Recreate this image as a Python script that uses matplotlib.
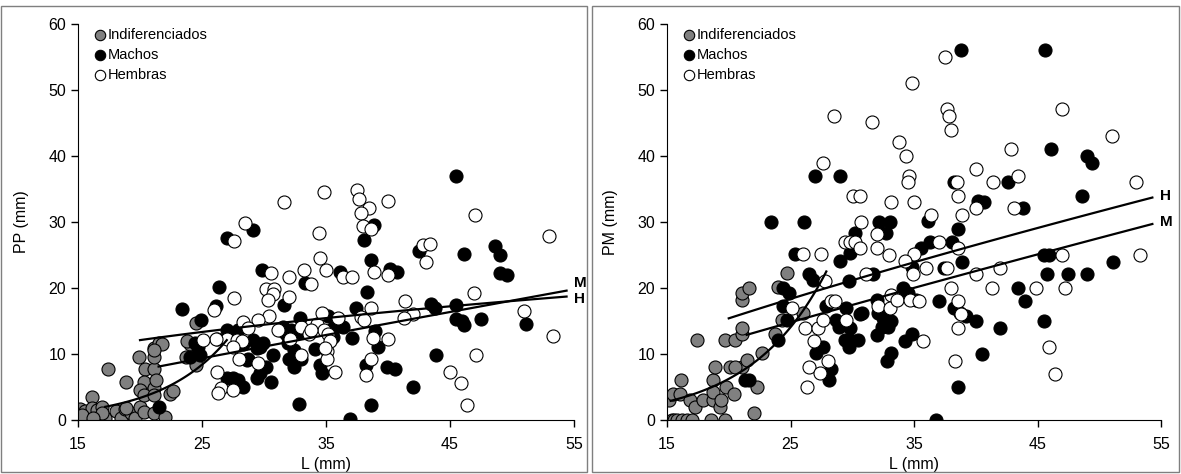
import numpy as np
import matplotlib.pyplot as plt
from matplotlib.patches import Rectangle

plt.rcParams['font.family'] = ['Liberation Sans', 'DejaVu Sans']

# ---- PP vs L (panel izquierdo) ----
pp_ind_x = [15.2, 15.6, 15.6, 16.0, 16.4, 16.8, 17.2, 16.1, 16.1, 16.5, 16.9, 16.9, 17.4, 18.1, 18.5,
            18.8, 18.9, 19.3, 19.6, 19.9, 20.0, 20.3, 20.4, 20.35, 20.0, 21.1, 20.3, 21.1, 21.1, 21.1,
            21.1, 21.1, 21.5, 21.75, 21.3, 22.0, 22.4, 22.7, 23.7, 24.0, 23.8, 24.5, 24.5, 26.2, 21.1,
            15.3, 16.2, 18.9]
pp_ind_y = [1.7, 1.3, 0.3, 0.3, 0.3, 0.3, 0.3, 3.5, 1.8, 1.5, 2.0, 1.0, 7.8, 1.3, 0.3,
            1.6, 5.8, 1.0, 0.3, 9.5, 2.0, 1.2, 7.7, 5.7, 4.5, 4.8, 3.8, 3.8, 1.1, 7.8,
            9.5, 10.9, 11.6, 11.5, 6.1, 0.4, 4.0, 4.4, 9.6, 11.5, 11.9, 8.3, 14.7, 12.2, 10.6,
            0.8, 0.3, 1.8]

pp_mac_x = [21.5, 23.4, 24.9, 24.4, 24.7, 24.0, 24.8, 26.4, 26.1, 27.0, 27.9, 27.0, 27.5, 27.9, 28.3,
            28.6, 29.4, 29.7, 30.2, 30.6, 30.75, 29.4, 29.1, 29.7, 29.9, 29.8, 27.0, 29.1, 31.6, 33.3,
            38.3, 38.1, 38.85, 38.6, 36.1, 40.2, 40.7, 42.5, 45.5, 46.1, 48.6, 49.0, 49.0, 49.6, 43.5,
            43.8, 45.5, 45.5, 46.0, 46.1, 47.5, 51.1, 37.4, 38.95, 39.2, 43.9, 42.0, 39.9, 40.6, 38.2,
            32.85, 38.6, 36.9, 37.1, 34.1, 34.5, 34.65, 32.4, 32.0, 32.4, 33.0, 31.8, 32.2, 31.55, 32.9,
            35.2, 35.6, 36.4, 35.6, 31.3, 31.9, 32.8, 28.3, 28.7]
pp_mac_y = [2.0, 16.8, 15.1, 11.6, 11.1, 9.6, 9.8, 20.1, 17.2, 13.6, 13.6, 6.3, 6.3, 6.1, 5.0,
            9.1, 6.3, 7.1, 8.1, 5.7, 9.8, 10.9, 12.1, 11.1, 11.6, 22.7, 27.6, 28.8, 17.5, 20.7,
            19.4, 27.2, 29.6, 24.2, 22.4, 22.9, 22.4, 25.6, 37.0, 25.2, 26.4, 25.0, 22.2, 22.0, 17.6,
            16.9, 17.5, 15.3, 15.0, 14.4, 15.3, 14.5, 16.9, 13.5, 11.1, 9.9, 5.0, 8.1, 7.8, 8.3,
            2.5, 2.2, 0.15, 12.4, 10.7, 8.3, 7.1, 10.6, 9.3, 8.1, 9.3, 13.1, 13.6, 14.1, 15.4,
            15.7, 13.9, 14.1, 12.6, 13.6, 11.6, 13.4, 11.5, 9.3]

pp_hem_x = [31.6, 28.5, 27.6, 34.8, 37.5, 37.7, 38.5, 40.0, 37.8, 47.0, 34.4, 38.0, 38.6, 53.0, 42.8,
            43.4, 43.1, 34.5, 30.6, 32.0, 33.2, 35.0, 36.4, 37.1, 38.9, 40.0, 33.8, 30.2, 30.8, 30.7,
            30.3, 32.0, 27.6, 26.0, 41.4, 38.6, 46.9, 51.0, 53.3, 42.0, 41.3, 37.8, 38.1, 38.8, 40.0,
            47.1, 45.0, 45.9, 46.4, 38.6, 38.2, 35.7, 35.05, 35.05, 32.1, 33.0, 33.6, 34.3, 34.65, 34.8,
            35.2, 35.3, 34.9, 36.0, 30.4, 29.5, 28.3, 28.7, 27.0, 27.8, 26.1, 25.1, 28.2, 27.5, 28.0,
            26.2, 26.5, 26.3, 27.5, 29.5, 33.0, 31.1, 33.8]
pp_hem_y = [33.1, 29.9, 27.1, 34.6, 34.8, 33.5, 32.1, 33.2, 31.4, 31.1, 28.4, 29.4, 28.9, 27.9, 26.5,
            26.7, 24.0, 24.5, 22.2, 21.7, 22.8, 22.7, 21.6, 21.7, 22.4, 22.0, 20.6, 19.8, 19.8, 19.1,
            18.2, 18.7, 18.5, 16.7, 18.0, 16.9, 19.2, 16.5, 12.7, 16.0, 15.4, 15.6, 15.2, 12.5, 12.2,
            9.8, 7.2, 5.6, 2.2, 9.3, 6.8, 7.2, 10.4, 9.3, 12.2, 14.1, 13.1, 14.6, 16.2, 13.6,
            13.1, 11.9, 10.9, 15.4, 15.8, 15.2, 14.9, 13.9, 12.2, 12.1, 12.2, 12.1, 12.0, 11.1, 9.2,
            7.2, 4.9, 4.1, 4.5, 8.7, 9.8, 13.7, 13.6]

# ---- PM vs L (panel derecho) ----
pm_ind_x = [15.2, 15.5, 16.05, 16.1, 16.9, 17.3, 17.4, 17.9, 18.75, 18.75, 18.75, 19.3, 19.4, 19.8, 19.7,
            18.9, 20.1, 20.5, 21.05, 21.05, 21.05, 21.45, 21.05, 21.05, 21.6, 22.3, 22.7, 24.0, 23.75, 24.3,
            24.7, 26.0, 22.05, 20.4, 20.5, 15.4, 15.6, 15.8, 16.2, 16.6, 17.0, 18.6, 19.7]
pm_ind_y = [3.0, 4.0, 4.0, 6.1, 3.0, 2.0, 12.1, 3.0, 3.0, 6.1, 4.3, 2.0, 3.0, 5.0, 12.1,
            8.1, 8.1, 12.1, 8.1, 13.1, 14.0, 9.1, 18.2, 19.2, 20.0, 5.0, 10.1, 20.1, 13.1, 15.2,
            22.2, 16.2, 1.0, 4.0, 8.1, 0, 0, 0, 0, 0, 0, 0, 0]

pm_mac_x = [23.4, 26.1, 27.0, 29.0, 30.2, 32.2, 33.05, 32.7, 38.8, 45.6, 46.1, 49.0, 49.4, 38.2, 42.6,
            48.6, 40.2, 40.7, 43.8, 36.1, 38.6, 29.8, 29.0, 25.4, 35.6, 36.3, 38.05, 38.9, 34.8, 37.4,
            31.7, 26.5, 26.85, 29.7, 24.4, 24.9, 34.1, 34.5, 37.0, 38.2, 38.7, 39.2, 27.9, 29.5, 30.8,
            32.0, 35.2, 24.4, 45.5, 45.9, 51.1, 45.8, 47.5, 49.0, 43.45, 44.0, 40.0, 42.0, 45.55, 40.5,
            38.6, 36.8, 34.8, 34.3, 33.1, 32.8, 33.1, 32.5, 24.0, 24.7, 21.3, 21.6, 27.1, 27.6, 28.3,
            28.1, 28.7, 28.9, 29.4, 29.8, 29.8, 30.6, 30.5, 29.7, 32.1, 32.4, 32.0, 32.9]
pm_mac_y = [30.0, 30.0, 37.0, 37.0, 28.3, 30.0, 30.0, 28.3, 56.1, 56.1, 41.1, 40.0, 39.0, 36.0, 36.0,
            34.0, 33.2, 33.1, 32.1, 30.2, 29.0, 25.3, 24.1, 25.1, 26.0, 27.0, 27.0, 24.0, 23.2, 23.1,
            22.1, 22.1, 21.2, 21.1, 20.0, 19.2, 20.0, 19.2, 18.0, 17.0, 16.2, 15.7, 17.2, 17.0, 16.2,
            18.2, 18.2, 17.2, 25.0, 25.0, 24.0, 22.1, 22.1, 22.1, 20.0, 18.0, 15.0, 14.0, 15.0, 10.0,
            5.0, 0.0, 13.0, 12.0, 10.1, 9.0, 15.0, 15.5, 12.1, 15.2, 6.1, 6.1, 10.1, 11.1, 7.8,
            6.1, 15.2, 14.1, 12.1, 14.0, 12.1, 16.1, 12.1, 11.1, 16.2, 14.1, 12.9, 14.1]

pm_hem_x = [37.5, 34.8, 28.5, 31.6, 37.65, 37.8, 38.0, 47.0, 33.8, 34.35, 51.0, 42.85, 27.6, 34.6, 34.5,
            38.5, 40.0, 41.4, 43.4, 53.0, 30.1, 30.6, 33.1, 35.0, 38.6, 40.0, 43.1, 30.7, 36.4, 38.9,
            32.0, 29.4, 29.8, 30.2, 30.6, 32.0, 33.0, 26.0, 27.5, 37.0, 38.6, 35.0, 34.3, 34.9, 36.0,
            37.7, 40.0, 41.3, 38.0, 31.1, 27.8, 33.1, 38.6, 28.3, 28.6, 32.1, 33.05, 33.65, 34.7, 35.4,
            25.1, 42.0, 47.0, 53.3, 44.9, 47.2, 38.8, 38.6, 45.9, 46.4, 38.3, 35.7, 26.2, 26.3, 26.5,
            26.9, 27.25, 27.6, 27.4, 28.0, 29.5]
pm_hem_y = [55.0, 51.1, 46.1, 45.1, 47.1, 46.1, 44.0, 47.1, 42.1, 40.0, 43.1, 41.1, 39.0, 37.0, 36.0,
            36.0, 38.0, 36.0, 37.0, 36.0, 34.0, 34.0, 33.1, 33.1, 34.0, 32.1, 32.1, 30.0, 31.1, 31.1,
            28.2, 27.0, 27.0, 27.0, 26.0, 26.0, 25.0, 25.1, 25.1, 27.0, 26.0, 25.2, 24.1, 22.1, 23.1,
            23.1, 22.1, 20.0, 20.0, 22.1, 21.1, 19.0, 18.0, 18.0, 18.0, 17.2, 17.0, 18.2, 18.2, 18.0,
            17.0, 23.0, 25.0, 25.0, 20.0, 20.0, 16.0, 14.0, 11.0, 7.0, 9.0, 12.0, 14.0, 5.0, 8.0,
            12.0, 14.0, 15.2, 7.1, 9.0, 15.2]

# lineas de tendencia: (tipo, a, b, x_ini, x_fin)
pp_trend = [('exp', 0.0849, 0.1837, 17.2, 27.0),
            ('pow', 0.4365, 0.952, 21.5, 54.4),
            ('pow', 3.288, 0.435, 20.0, 54.4)]
pm_trend = [('exp', 0.2417, 0.1625, 15.3, 27.9),
            ('pow', 0.822, 0.898, 21.45, 54.3),
            ('pow', 1.471, 0.784, 20.0, 54.3)]


def trend(ax, kind, a, b, x0, x1):
    x = np.linspace(x0, x1, 100)
    y = a * np.exp(b * x) if kind == 'exp' else a * x ** b
    ax.plot(x, y, color='black', lw=1.6, zorder=5)
    return y[-1]


def panel(ax, ind, mac, hem, trends, ylabel, lab_order):
    ms = 88
    ax.scatter(ind[0], ind[1], s=ms, c='#808080', edgecolors='black', linewidths=0.8,
               label='Indiferenciados', zorder=2)
    ax.scatter(mac[0], mac[1], s=ms, c='black', edgecolors='black', linewidths=0.8,
               label='Machos', zorder=3)
    ax.scatter(hem[0], hem[1], s=ms, c='white', edgecolors='black', linewidths=0.8,
               label='Hembras', zorder=4)
    ends = [trend(ax, *t) for t in trends]
    # etiquetas M y H al final de las lineas
    ax.text(trends[1][4] + 0.6, ends[1] + lab_order[0], 'M', fontsize=11, fontweight='bold',
            va='center', ha='left', clip_on=False)
    ax.text(trends[2][4] + 0.6, ends[2] + lab_order[1], 'H', fontsize=11, fontweight='bold',
            va='center', ha='left', clip_on=False)

    ax.set_xlim(15, 55)
    ax.set_ylim(0, 60)
    ax.set_xticks([15, 25, 35, 45, 55])
    ax.set_yticks(range(0, 61, 10))
    ax.spines['top'].set_visible(False)
    ax.spines['right'].set_visible(False)
    ax.tick_params(labelsize=11.5, length=5, width=1, direction='out')
    ax.tick_params(axis='x', pad=7)
    ax.set_xlabel('L (mm)', fontsize=11.5, labelpad=4)
    ax.set_ylabel(ylabel, fontsize=11.5, labelpad=14)
    ax.legend(loc='upper left', frameon=False, fontsize=10.5, handletextpad=-0.5,
              labelspacing=0.42, borderaxespad=0, borderpad=0, bbox_to_anchor=(0.015, 0.99),
              markerscale=0.8)


fig = plt.figure(figsize=(11.81, 4.74), dpi=100)
ax1 = fig.add_axes([78 / 1181, 1 - 420 / 474, 496 / 1181, 396 / 474])
ax2 = fig.add_axes([667 / 1181, 1 - 420 / 474, 494 / 1181, 396 / 474])

panel(ax1, (pp_ind_x, pp_ind_y), (pp_mac_x, pp_mac_y), (pp_hem_x, pp_hem_y), pp_trend,
      'PP (mm)', (1.2, -0.3))
panel(ax2, (pm_ind_x, pm_ind_y), (pm_mac_x, pm_mac_y), (pm_hem_x, pm_hem_y), pm_trend,
      'PM (mm)', (0.3, 0.3))

# marcos de cada grafico
for x0, w in [(1, 586), (592, 587)]:
    fig.patches.append(Rectangle((x0 / 1181, 2 / 474), w / 1181, 466 / 474, transform=fig.transFigure,
                                 fill=False, edgecolor='#7f7f7f', lw=1.0))

fig.savefig('out.png', dpi=100)
